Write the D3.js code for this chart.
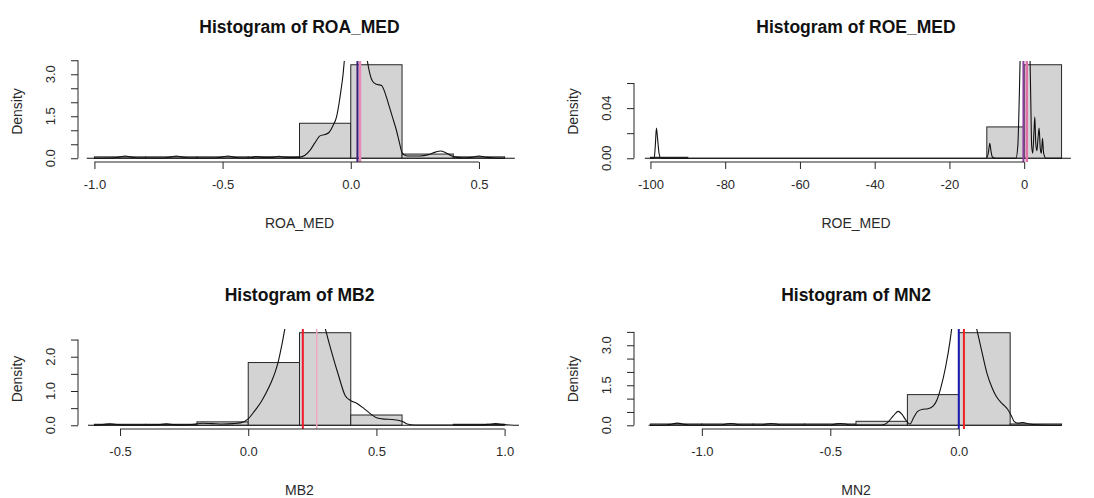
<!DOCTYPE html>
<html>
<head>
<meta charset="utf-8">
<script src="https://d3js.org/d3.v7.min.js"></script>
<style>
  body { margin: 0; background: #fff; }
  svg { display: block; font-family: "Liberation Sans", Arial, sans-serif; }
</style>
</head>
<body>
<svg id="drawing_region"></svg>
<script>
// ROA_MED: histogram bins (density), kernel density trace, median / mean
const roaBreaks = [-1.0, -0.8, -0.6, -0.4, -0.2, 0.0, 0.2, 0.4, 0.6];
const roaDensity = [0.05, 0.05, 0.05, 0.05, 1.25, 3.34, 0.15, 0.05];
const roaKde = [
  [-1.03, 0.00], [-0.93, 0.01], [-0.90, 0.05], [-0.88, 0.08], [-0.86, 0.05], [-0.83, 0.01],
  [-0.73, 0.01], [-0.70, 0.05], [-0.68, 0.08], [-0.66, 0.05], [-0.63, 0.01],
  [-0.53, 0.01], [-0.50, 0.05], [-0.48, 0.08], [-0.46, 0.05], [-0.43, 0.01],
  [-0.39, 0.02], [-0.37, 0.06], [-0.35, 0.04], [-0.33, 0.03], [-0.30, 0.04], [-0.28, 0.07],
  [-0.26, 0.04], [-0.23, 0.03], [-0.20, 0.04], [-0.18, 0.10], [-0.16, 0.27], [-0.14, 0.55],
  [-0.12, 0.80], [-0.10, 0.85], [-0.085, 0.92], [-0.07, 1.15], [-0.055, 1.50], [-0.045, 2.00],
  [-0.038, 2.44], [-0.03, 3.00], [-0.024, 3.60], [-0.01, 5.00], [0.02, 7.00], [0.05, 5.00],
  [0.063, 3.60], [0.075, 3.00], [0.085, 2.75], [0.10, 2.64], [0.12, 2.60], [0.135, 2.30],
  [0.15, 1.85], [0.165, 1.40], [0.178, 1.00], [0.19, 0.55], [0.20, 0.20], [0.215, 0.09],
  [0.23, 0.08], [0.27, 0.08], [0.30, 0.12], [0.33, 0.22], [0.35, 0.26], [0.37, 0.20],
  [0.39, 0.10], [0.41, 0.04], [0.44, 0.01], [0.47, 0.03], [0.50, 0.08], [0.53, 0.03],
  [0.56, 0.01], [0.64, 0.00]
];
const roaMedianMean = [0.036, 0.026];
const roaXTicks = [-1.0, -0.5, 0.0, 0.5];
const roaYTicks = [0, 0.5, 1.0, 1.5, 2.0, 2.5, 3.0, 3.5];
const roaYLabels = [0, 1.5, 3.0];

// ROE_MED
const roeBreaks = [-100, -90, -80, -70, -60, -50, -40, -30, -20, -10, 0, 10];
const roeDensity = [0.0008, 0, 0, 0, 0, 0, 0, 0, 0, 0.025, 0.0746];
const roeKde = [
  [-101.5, 0], [-99.0, 0], [-98.7, 0.010], [-98.4, 0.024], [-98.1, 0.016], [-97.7, 0.004],
  [-97.2, 0], [-10.2, 0], [-9.6, 0.004], [-9.2, 0.012], [-8.9, 0.006], [-8.5, 0.001],
  [-7.8, 0], [-2.2, 0], [-1.7, 0.01], [-1.3, 0.05], [-1.0, 0.09], [0.5, 0.15], [1.5, 0.09],
  [1.8, 0.04], [2.0, 0.01], [2.3, 0.004], [2.6, 0.02], [2.85, 0.033], [3.1, 0.012],
  [3.4, 0.006], [3.7, 0.016], [4.0, 0.024], [4.3, 0.008], [4.6, 0.004], [4.9, 0.016],
  [5.2, 0.004], [5.8, 0], [12.5, 0]
];
const roeMedianMean = [0.7, -0.2];
const roeXTicks = [-100, -80, -60, -40, -20, 0];
const roeYTicks = [0, 0.02, 0.04, 0.06];
const roeYLabels = [0, 0.04];

// MB2
const mbBreaks = [-0.6, -0.4, -0.2, 0.0, 0.2, 0.4, 0.6, 0.8, 1.0];
const mbDensity = [0.03, 0.03, 0.10, 1.83, 2.70, 0.30, 0, 0.03];
const mbKde = [
  [-0.625, 0], [-0.58, 0.01], [-0.56, 0.03], [-0.54, 0.045], [-0.52, 0.03], [-0.49, 0.01],
  [-0.40, 0.01], [-0.35, 0.02], [-0.32, 0.045], [-0.29, 0.02], [-0.25, 0.01], [-0.21, 0.03],
  [-0.18, 0.06], [-0.14, 0.05], [-0.10, 0.04], [-0.06, 0.05], [-0.03, 0.07], [0.0, 0.19],
  [0.025, 0.42], [0.05, 0.68], [0.07, 0.95], [0.09, 1.26], [0.105, 1.55], [0.117, 1.85],
  [0.13, 2.30], [0.145, 2.90], [0.17, 3.80], [0.22, 4.40], [0.27, 3.80], [0.298, 2.90],
  [0.325, 2.14], [0.352, 1.46], [0.378, 0.87], [0.40, 0.72], [0.426, 0.63], [0.453, 0.48],
  [0.48, 0.32], [0.50, 0.22], [0.53, 0.18], [0.56, 0.17], [0.60, 0.12], [0.62, 0.04],
  [0.65, 0.01], [0.90, 0.01], [0.94, 0.03], [0.965, 0.05], [0.99, 0.03], [1.02, 0.01],
  [1.056, 0]
];
const mbMedianMean = [0.213, 0.267];
const mbXTicks = [-0.5, 0.0, 0.5, 1.0];
const mbYTicks = [0, 0.5, 1.0, 1.5, 2.0, 2.5];
const mbYLabels = [0, 1.0, 2.0];

// MN2
const mnBreaks = [-1.2, -1.0, -0.8, -0.6, -0.4, -0.2, 0.0, 0.2, 0.4];
const mnDensity = [0.05, 0.05, 0.05, 0.05, 0.15, 1.15, 3.47, 0.05];
const mnKde = [
  [-1.207, 0], [-1.14, 0.01], [-1.115, 0.05], [-1.095, 0.08], [-1.075, 0.05], [-1.05, 0.01],
  [-0.93, 0.01], [-0.905, 0.05], [-0.888, 0.07], [-0.87, 0.05], [-0.845, 0.01],
  [-0.77, 0.01], [-0.75, 0.05], [-0.73, 0.07], [-0.71, 0.05], [-0.69, 0.01],
  [-0.50, 0.01], [-0.48, 0.05], [-0.461, 0.07], [-0.44, 0.05], [-0.42, 0.01],
  [-0.30, 0.01], [-0.28, 0.08], [-0.255, 0.35], [-0.236, 0.52], [-0.22, 0.40], [-0.205, 0.18],
  [-0.19, 0.05], [-0.175, 0.30], [-0.16, 0.52], [-0.14, 0.60], [-0.12, 0.62], [-0.10, 0.72],
  [-0.085, 0.95], [-0.07, 1.40], [-0.05, 2.25], [-0.035, 3.10], [-0.025, 3.80], [0.02, 5.50],
  [0.055, 4.20], [0.07, 3.60], [0.09, 2.75], [0.11, 1.94], [0.13, 1.40], [0.145, 1.10],
  [0.17, 0.80], [0.19, 0.60], [0.205, 0.35], [0.215, 0.15], [0.23, 0.08], [0.25, 0.10],
  [0.27, 0.06], [0.29, 0.03], [0.33, 0.01], [0.40, 0]
];
const mnMedianMean = [0.02, 0.0];
const mnXTicks = [-1.0, -0.5, 0.0];
const mnYTicks = [0, 0.5, 1.0, 1.5, 2.0, 2.5, 3.0, 3.5];
const mnYLabels = [0, 1.5, 3.0];

const svg = d3.select('#drawing_region')
  .attr('width', 1094)
  .attr('height', 498);

class HistPanel {
  constructor(config, data) {
    this.config = config;
    this.data = data;
    this.init();
  }

  init() {
    let self = this;
    const b = self.config.box;
    const breaks = self.data.breaks;

    self.chart = svg.append('g');

    // 4% padding on both axes, as base graphics does
    const lo = breaks[0], hi = breaks[breaks.length - 1];
    const pad = 0.04 * (hi - lo);
    self.xscale = d3.scaleLinear().domain([lo - pad, hi + pad]).range([b.x0, b.x1]);

    const ymax = d3.max(self.data.density);
    self.yscale = d3.scaleLinear().domain([-0.04 * ymax, 1.04 * ymax]).range([b.y1, b.y0]);

    self.bins = self.data.density.map((d, i) => ({ x0: breaks[i], x1: breaks[i + 1], d: d }));
  }

  render() {
    let self = this;
    const b = self.config.box;
    const x = self.xscale, y = self.yscale;
    const ink = '#262626';
    const textInk = '#2a2a2a';

    self.chart.append('clipPath')
      .attr('id', self.config.id)
      .append('rect')
      .attr('x', b.x0).attr('y', b.y0)
      .attr('width', b.x1 - b.x0).attr('height', b.y1 - b.y0);

    // bars
    self.chart.selectAll('rect.bar')
      .data(self.bins.filter(d => d.d > 0))
      .join('rect')
      .attr('class', 'bar')
      .attr('x', d => x(d.x0))
      .attr('y', d => y(d.d))
      .attr('width', d => x(d.x1) - x(d.x0))
      .attr('height', d => y(0) - y(d.d))
      .attr('fill', '#d3d3d3')
      .attr('stroke', ink)
      .attr('stroke-width', 1);

    // empty bins collapse onto the zero line
    self.chart.append('line')
      .attr('x1', x(self.data.breaks[0]))
      .attr('x2', x(self.data.breaks[self.data.breaks.length - 1]))
      .attr('y1', y(0)).attr('y2', y(0))
      .attr('stroke', ink);

    // kernel density
    const line = d3.line()
      .x(d => x(d[0]))
      .y(d => y(d[1]))
      .curve(d3.curveMonotoneX);

    self.chart.append('path')
      .datum(self.data.kde)
      .attr('d', line)
      .attr('clip-path', `url(#${self.config.id})`)
      .attr('fill', 'none')
      .attr('stroke', '#111')
      .attr('stroke-width', 1.1);

    // median / mean markers
    self.chart.selectAll('line.mark')
      .data(self.data.marks)
      .join('line')
      .attr('class', 'mark')
      .attr('x1', d => x(d)).attr('x2', d => x(d))
      .attr('y1', b.y0).attr('y2', b.y1)
      .attr('stroke', (d, i) => self.config.markColors[i])
      .attr('stroke-width', (d, i) => self.config.markWidths[i]);

    // x axis, line only between the outer ticks
    const xaxis = d3.axisBottom(x)
      .tickValues(self.data.xticks)
      .tickSize(7)
      .tickFormat(self.config.xfmt);
    const xg = self.chart.append('g')
      .attr('transform', `translate(0, ${b.y1})`)
      .call(xaxis);
    xg.select('.domain').remove();
    xg.append('line')
      .attr('x1', x(self.data.xticks[0]))
      .attr('x2', x(self.data.xticks[self.data.xticks.length - 1]))
      .attr('stroke', ink);
    xg.selectAll('.tick line').attr('stroke', ink);
    xg.selectAll('text')
      .attr('y', 18)
      .attr('dy', '0.71em')
      .attr('font-size', 13)
      .attr('font-family', '"Liberation Sans", Arial, sans-serif')
      .attr('fill', textInk);

    // y axis with labels parallel to it
    const yaxis = d3.axisLeft(y)
      .tickValues(self.data.yticks)
      .tickSize(7)
      .tickFormat('');
    const yg = self.chart.append('g')
      .attr('transform', `translate(${b.x0}, 0)`)
      .call(yaxis);
    yg.select('.domain').remove();
    yg.append('line')
      .attr('y1', y(self.data.yticks[0]))
      .attr('y2', y(self.data.yticks[self.data.yticks.length - 1]))
      .attr('stroke', ink);
    yg.selectAll('.tick line').attr('stroke', ink);

    self.chart.selectAll('text.ylab')
      .data(self.data.ylabels)
      .join('text')
      .attr('class', 'ylab')
      .attr('transform', d => `translate(${b.x0 - 28}, ${y(d)}) rotate(-90)`)
      .attr('dy', '0.35em')
      .attr('text-anchor', 'middle')
      .attr('font-size', 13)
      .attr('fill', textInk)
      .text(self.config.yfmt);

    // titles
    const cx = (b.x0 + b.x1) / 2;
    self.chart.append('text')
      .attr('x', cx).attr('y', b.y0 - 28)
      .attr('text-anchor', 'middle')
      .attr('font-size', 17.5)
      .attr('font-weight', 'bold')
      .attr('fill', '#111')
      .text(self.config.title);

    self.chart.append('text')
      .attr('x', cx).attr('y', b.y1 + 66)
      .attr('text-anchor', 'middle')
      .attr('font-size', 14)
      .attr('fill', textInk)
      .text(self.config.xlab);

    self.chart.append('text')
      .attr('transform', `translate(${b.x0 - 61}, ${(b.y0 + b.y1) / 2}) rotate(-90)`)
      .attr('dy', '0.35em')
      .attr('text-anchor', 'middle')
      .attr('font-size', 14)
      .attr('fill', textInk)
      .text('Density');
  }
}

const f1 = d => d.toFixed(1);
const f2 = d => d.toFixed(2);
const f0 = d => String(d);

const panels = [
  {
    config: { id: 'clip-roa', title: 'Histogram of ROA_MED', xlab: 'ROA_MED',
      box: { x0: 78, x1: 521, y0: 61, y1: 162 }, xfmt: f1, yfmt: f1,
      markColors: ['#e88ab8', '#3d1f7a'], markWidths: [2.5, 2] },
    data: { breaks: roaBreaks, density: roaDensity, kde: roaKde, marks: roaMedianMean,
      xticks: roaXTicks, yticks: roaYTicks, ylabels: roaYLabels }
  },
  {
    config: { id: 'clip-roe', title: 'Histogram of ROE_MED', xlab: 'ROE_MED',
      box: { x0: 634, x1: 1078, y0: 61, y1: 162 }, xfmt: f0, yfmt: f2,
      markColors: ['#e070a8', '#8a3c9c'], markWidths: [2.5, 2] },
    data: { breaks: roeBreaks, density: roeDensity, kde: roeKde, marks: roeMedianMean,
      xticks: roeXTicks, yticks: roeYTicks, ylabels: roeYLabels }
  },
  {
    config: { id: 'clip-mb', title: 'Histogram of MB2', xlab: 'MB2',
      box: { x0: 78, x1: 521, y0: 329, y1: 429 }, xfmt: f1, yfmt: f1,
      markColors: ['#f01a2a', '#f0a8bc'], markWidths: [2, 1.5] },
    data: { breaks: mbBreaks, density: mbDensity, kde: mbKde, marks: mbMedianMean,
      xticks: mbXTicks, yticks: mbYTicks, ylabels: mbYLabels }
  },
  {
    config: { id: 'clip-mn', title: 'Histogram of MN2', xlab: 'MN2',
      box: { x0: 634, x1: 1078, y0: 329, y1: 429 }, xfmt: f1, yfmt: f1,
      markColors: ['#f02020', '#1a1ab0'], markWidths: [2, 2] },
    data: { breaks: mnBreaks, density: mnDensity, kde: mnKde, marks: mnMedianMean,
      xticks: mnXTicks, yticks: mnYTicks, ylabels: mnYLabels }
  }
];

panels.forEach(p => {
  const panel = new HistPanel(p.config, p.data);
  panel.render();
});
</script>
</body>
</html>
